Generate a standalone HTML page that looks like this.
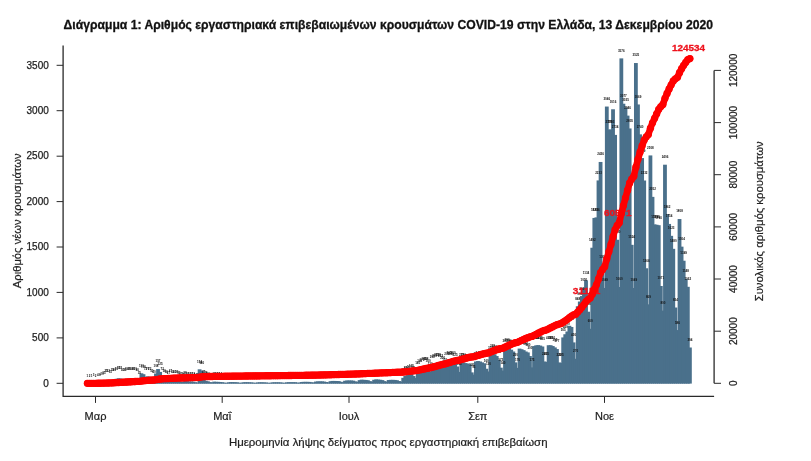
<!DOCTYPE html>
<html lang="el"><head><meta charset="utf-8"><title>COVID-19 Ελλάδα</title>
<style>
html,body{margin:0;padding:0;background:#fff;}
body{width:811px;height:461px;overflow:hidden;}
svg{display:block;font-family:"Liberation Sans",sans-serif;}
.t{font-size:3px;font-weight:bold;fill:#111;text-anchor:middle;}
.ax{font-size:10px;fill:#222;stroke:#222;stroke-width:0.25px;}
.lab{font-size:11px;fill:#222;stroke:#222;stroke-width:0.2px;}
.rl{font-size:9.5px;font-weight:bold;fill:#ee121c;stroke:#ee121c;stroke-width:0.3px;text-anchor:middle;}
</style></head><body>
<svg width="811" height="461" viewBox="0 0 811 461">
<rect width="811" height="461" fill="#fff"/>
<text x="63.6" y="29" font-size="12.8" font-weight="bold" fill="#111" stroke="#111" stroke-width="0.3" textLength="649.5" lengthAdjust="spacingAndGlyphs">Διάγραμμα 1: Αριθμός εργαστηριακά επιβεβαιωμένων κρουσμάτων COVID-19 στην Ελλάδα, 13 Δεκεμβρίου 2020</text>
<g fill="#4a708b">
<rect x="85.50" y="383.21" width="3.8" height="0.39"/><rect x="87.58" y="383.12" width="3.8" height="0.48"/><rect x="89.66" y="383.21" width="3.8" height="0.39"/><rect x="91.73" y="383.03" width="3.8" height="0.57"/><rect x="93.81" y="383.12" width="3.8" height="0.48"/><rect x="95.89" y="382.94" width="3.8" height="0.66"/><rect x="97.97" y="382.57" width="3.8" height="1.03"/><rect x="100.04" y="381.48" width="3.8" height="2.12"/><rect x="102.12" y="380.12" width="3.8" height="3.48"/><rect x="104.20" y="381.03" width="3.8" height="2.57"/><rect x="106.28" y="381.30" width="3.8" height="2.30"/><rect x="108.35" y="381.94" width="3.8" height="1.66"/><rect x="110.43" y="380.12" width="3.8" height="3.48"/><rect x="112.51" y="379.67" width="3.8" height="3.93"/><rect x="114.59" y="378.76" width="3.8" height="4.84"/><rect x="116.66" y="378.30" width="3.8" height="5.30"/><rect x="118.74" y="378.48" width="3.8" height="5.12"/><rect x="120.82" y="379.67" width="3.8" height="3.93"/><rect x="122.90" y="380.12" width="3.8" height="3.48"/><rect x="124.97" y="378.76" width="3.8" height="4.84"/><rect x="127.05" y="378.94" width="3.8" height="4.66"/><rect x="129.13" y="378.76" width="3.8" height="4.84"/><rect x="131.21" y="378.94" width="3.8" height="4.66"/><rect x="133.28" y="378.76" width="3.8" height="4.84"/><rect x="135.36" y="379.67" width="3.8" height="3.93"/><rect x="137.44" y="380.12" width="3.8" height="3.48"/><rect x="139.52" y="373.31" width="3.8" height="10.29"/><rect x="141.60" y="374.21" width="3.8" height="9.39"/><rect x="143.67" y="376.76" width="3.8" height="6.84"/><rect x="145.75" y="376.39" width="3.8" height="7.21"/><rect x="147.83" y="376.76" width="3.8" height="6.84"/><rect x="149.91" y="378.76" width="3.8" height="4.84"/><rect x="151.98" y="379.67" width="3.8" height="3.93"/><rect x="154.06" y="373.49" width="3.8" height="10.11"/><rect x="156.14" y="369.04" width="3.8" height="14.56"/><rect x="158.22" y="371.94" width="3.8" height="11.66"/><rect x="160.29" y="376.76" width="3.8" height="6.84"/><rect x="162.37" y="378.21" width="3.8" height="5.39"/><rect x="164.45" y="380.03" width="3.8" height="3.57"/><rect x="166.53" y="380.85" width="3.8" height="2.75"/><rect x="168.60" y="379.03" width="3.8" height="4.57"/><rect x="170.68" y="379.39" width="3.8" height="4.21"/><rect x="172.76" y="379.67" width="3.8" height="3.93"/><rect x="174.84" y="380.03" width="3.8" height="3.57"/><rect x="176.91" y="380.39" width="3.8" height="3.21"/><rect x="178.99" y="381.48" width="3.8" height="2.12"/><rect x="181.07" y="382.03" width="3.8" height="1.57"/><rect x="183.15" y="380.76" width="3.8" height="2.84"/><rect x="185.22" y="381.12" width="3.8" height="2.48"/><rect x="187.30" y="381.48" width="3.8" height="2.12"/><rect x="189.38" y="381.48" width="3.8" height="2.12"/><rect x="191.46" y="381.66" width="3.8" height="1.94"/><rect x="193.54" y="382.21" width="3.8" height="1.39"/><rect x="195.61" y="382.57" width="3.8" height="1.03"/><rect x="197.69" y="369.31" width="3.8" height="14.29"/><rect x="199.77" y="370.58" width="3.8" height="13.02"/><rect x="201.85" y="379.21" width="3.8" height="4.39"/><rect x="203.92" y="380.76" width="3.8" height="2.84"/><rect x="206.00" y="381.30" width="3.8" height="2.30"/><rect x="208.08" y="382.12" width="3.8" height="1.48"/><rect x="210.16" y="382.48" width="3.8" height="1.12"/><rect x="212.23" y="381.66" width="3.8" height="1.94"/><rect x="214.31" y="381.85" width="3.8" height="1.75"/><rect x="216.39" y="381.85" width="3.8" height="1.75"/><rect x="218.47" y="382.03" width="3.8" height="1.57"/><rect x="220.54" y="382.21" width="3.8" height="1.39"/><rect x="222.62" y="382.66" width="3.8" height="0.94"/><rect x="224.70" y="382.85" width="3.8" height="0.75"/><rect x="226.78" y="382.30" width="3.8" height="1.30"/><rect x="228.85" y="382.12" width="3.8" height="1.48"/><rect x="230.93" y="382.12" width="3.8" height="1.48"/><rect x="233.01" y="382.21" width="3.8" height="1.39"/><rect x="235.09" y="382.30" width="3.8" height="1.30"/><rect x="237.16" y="382.66" width="3.8" height="0.94"/><rect x="239.24" y="382.85" width="3.8" height="0.75"/><rect x="241.32" y="382.30" width="3.8" height="1.30"/><rect x="243.40" y="382.21" width="3.8" height="1.39"/><rect x="245.48" y="382.21" width="3.8" height="1.39"/><rect x="247.55" y="382.30" width="3.8" height="1.30"/><rect x="249.63" y="382.39" width="3.8" height="1.21"/><rect x="251.71" y="382.66" width="3.8" height="0.94"/><rect x="253.79" y="382.85" width="3.8" height="0.75"/><rect x="255.86" y="382.39" width="3.8" height="1.21"/><rect x="257.94" y="382.30" width="3.8" height="1.30"/><rect x="260.02" y="382.30" width="3.8" height="1.30"/><rect x="262.10" y="382.39" width="3.8" height="1.21"/><rect x="264.17" y="382.48" width="3.8" height="1.12"/><rect x="266.25" y="382.75" width="3.8" height="0.85"/><rect x="268.33" y="382.85" width="3.8" height="0.75"/><rect x="270.41" y="382.39" width="3.8" height="1.21"/><rect x="272.48" y="382.30" width="3.8" height="1.30"/><rect x="274.56" y="382.30" width="3.8" height="1.30"/><rect x="276.64" y="382.30" width="3.8" height="1.30"/><rect x="278.72" y="382.39" width="3.8" height="1.21"/><rect x="280.79" y="382.66" width="3.8" height="0.94"/><rect x="282.87" y="382.85" width="3.8" height="0.75"/><rect x="284.95" y="382.30" width="3.8" height="1.30"/><rect x="287.03" y="382.21" width="3.8" height="1.39"/><rect x="289.10" y="382.21" width="3.8" height="1.39"/><rect x="291.18" y="382.21" width="3.8" height="1.39"/><rect x="293.26" y="382.21" width="3.8" height="1.39"/><rect x="295.34" y="382.57" width="3.8" height="1.03"/><rect x="297.42" y="382.75" width="3.8" height="0.85"/><rect x="299.49" y="382.03" width="3.8" height="1.57"/><rect x="301.57" y="381.85" width="3.8" height="1.75"/><rect x="303.65" y="381.85" width="3.8" height="1.75"/><rect x="305.73" y="381.85" width="3.8" height="1.75"/><rect x="307.80" y="381.94" width="3.8" height="1.66"/><rect x="309.88" y="382.30" width="3.8" height="1.30"/><rect x="311.96" y="382.57" width="3.8" height="1.03"/><rect x="314.04" y="381.57" width="3.8" height="2.03"/><rect x="316.11" y="381.39" width="3.8" height="2.21"/><rect x="318.19" y="381.39" width="3.8" height="2.21"/><rect x="320.27" y="381.39" width="3.8" height="2.21"/><rect x="322.35" y="381.57" width="3.8" height="2.03"/><rect x="324.42" y="382.03" width="3.8" height="1.57"/><rect x="326.50" y="382.39" width="3.8" height="1.21"/><rect x="328.58" y="381.21" width="3.8" height="2.39"/><rect x="330.66" y="380.94" width="3.8" height="2.66"/><rect x="332.73" y="380.94" width="3.8" height="2.66"/><rect x="334.81" y="381.03" width="3.8" height="2.57"/><rect x="336.89" y="381.12" width="3.8" height="2.48"/><rect x="338.97" y="381.76" width="3.8" height="1.84"/><rect x="341.04" y="382.21" width="3.8" height="1.39"/><rect x="343.12" y="380.76" width="3.8" height="2.84"/><rect x="345.20" y="380.48" width="3.8" height="3.12"/><rect x="347.28" y="380.48" width="3.8" height="3.12"/><rect x="349.36" y="380.48" width="3.8" height="3.12"/><rect x="351.43" y="380.67" width="3.8" height="2.93"/><rect x="353.51" y="381.39" width="3.8" height="2.21"/><rect x="355.59" y="381.85" width="3.8" height="1.75"/><rect x="357.67" y="380.12" width="3.8" height="3.48"/><rect x="359.74" y="379.67" width="3.8" height="3.93"/><rect x="361.82" y="379.85" width="3.8" height="3.75"/><rect x="363.90" y="379.94" width="3.8" height="3.66"/><rect x="365.98" y="380.21" width="3.8" height="3.39"/><rect x="368.05" y="381.12" width="3.8" height="2.48"/><rect x="370.13" y="381.76" width="3.8" height="1.84"/><rect x="372.21" y="379.76" width="3.8" height="3.84"/><rect x="374.29" y="379.39" width="3.8" height="4.21"/><rect x="376.36" y="379.57" width="3.8" height="4.03"/><rect x="378.44" y="379.76" width="3.8" height="3.84"/><rect x="380.52" y="380.12" width="3.8" height="3.48"/><rect x="382.60" y="381.12" width="3.8" height="2.48"/><rect x="384.67" y="381.76" width="3.8" height="1.84"/><rect x="386.75" y="380.03" width="3.8" height="3.57"/><rect x="388.83" y="379.85" width="3.8" height="3.75"/><rect x="390.91" y="379.85" width="3.8" height="3.75"/><rect x="392.98" y="379.94" width="3.8" height="3.66"/><rect x="395.06" y="380.21" width="3.8" height="3.39"/><rect x="397.14" y="381.03" width="3.8" height="2.57"/><rect x="399.22" y="381.66" width="3.8" height="1.94"/><rect x="401.30" y="377.85" width="3.8" height="5.75"/><rect x="403.37" y="376.03" width="3.8" height="7.57"/><rect x="405.45" y="375.12" width="3.8" height="8.48"/><rect x="407.53" y="374.21" width="3.8" height="9.39"/><rect x="409.61" y="373.76" width="3.8" height="9.84"/><rect x="411.68" y="376.03" width="3.8" height="7.57"/><rect x="413.76" y="377.85" width="3.8" height="5.75"/><rect x="415.84" y="370.58" width="3.8" height="13.02"/><rect x="417.92" y="368.31" width="3.8" height="15.29"/><rect x="419.99" y="367.40" width="3.8" height="16.20"/><rect x="422.07" y="366.49" width="3.8" height="17.11"/><rect x="424.15" y="366.22" width="3.8" height="17.38"/><rect x="426.23" y="368.76" width="3.8" height="14.84"/><rect x="428.30" y="371.49" width="3.8" height="12.11"/><rect x="430.38" y="364.67" width="3.8" height="18.93"/><rect x="432.46" y="363.77" width="3.8" height="19.83"/><rect x="434.54" y="362.86" width="3.8" height="20.74"/><rect x="436.61" y="362.58" width="3.8" height="21.02"/><rect x="438.69" y="363.13" width="3.8" height="20.47"/><rect x="440.77" y="365.13" width="3.8" height="18.47"/><rect x="442.85" y="367.85" width="3.8" height="15.75"/><rect x="444.92" y="361.95" width="3.8" height="21.65"/><rect x="447.00" y="361.04" width="3.8" height="22.56"/><rect x="449.08" y="361.49" width="3.8" height="22.11"/><rect x="451.16" y="360.59" width="3.8" height="23.01"/><rect x="453.24" y="362.86" width="3.8" height="20.74"/><rect x="455.31" y="366.49" width="3.8" height="17.11"/><rect x="457.39" y="371.94" width="3.8" height="11.66"/><rect x="459.47" y="362.86" width="3.8" height="20.74"/><rect x="461.55" y="362.40" width="3.8" height="21.20"/><rect x="463.62" y="363.13" width="3.8" height="20.47"/><rect x="465.70" y="363.49" width="3.8" height="20.11"/><rect x="467.78" y="364.22" width="3.8" height="19.38"/><rect x="469.86" y="372.40" width="3.8" height="11.20"/><rect x="471.93" y="374.67" width="3.8" height="8.93"/><rect x="474.01" y="361.49" width="3.8" height="22.11"/><rect x="476.09" y="361.04" width="3.8" height="22.56"/><rect x="478.17" y="361.49" width="3.8" height="22.11"/><rect x="480.24" y="362.40" width="3.8" height="21.20"/><rect x="482.32" y="363.31" width="3.8" height="20.29"/><rect x="484.40" y="368.76" width="3.8" height="14.84"/><rect x="486.48" y="371.49" width="3.8" height="12.11"/><rect x="488.55" y="355.13" width="3.8" height="28.47"/><rect x="490.63" y="354.04" width="3.8" height="29.56"/><rect x="492.71" y="354.23" width="3.8" height="29.37"/><rect x="494.79" y="356.04" width="3.8" height="27.56"/><rect x="496.86" y="359.68" width="3.8" height="23.92"/><rect x="498.94" y="367.67" width="3.8" height="15.93"/><rect x="501.02" y="370.58" width="3.8" height="13.02"/><rect x="503.10" y="348.77" width="3.8" height="34.83"/><rect x="505.18" y="347.87" width="3.8" height="35.73"/><rect x="507.25" y="348.23" width="3.8" height="35.37"/><rect x="509.33" y="349.68" width="3.8" height="33.92"/><rect x="511.41" y="351.50" width="3.8" height="32.10"/><rect x="513.49" y="362.40" width="3.8" height="21.20"/><rect x="515.56" y="367.85" width="3.8" height="15.75"/><rect x="517.64" y="348.59" width="3.8" height="35.01"/><rect x="519.72" y="349.23" width="3.8" height="34.37"/><rect x="521.80" y="350.14" width="3.8" height="33.46"/><rect x="523.87" y="351.50" width="3.8" height="32.10"/><rect x="525.95" y="352.41" width="3.8" height="31.19"/><rect x="528.03" y="356.04" width="3.8" height="27.56"/><rect x="530.11" y="367.40" width="3.8" height="16.20"/><rect x="532.18" y="346.05" width="3.8" height="37.55"/><rect x="534.26" y="345.32" width="3.8" height="38.28"/><rect x="536.34" y="345.14" width="3.8" height="38.46"/><rect x="538.42" y="345.59" width="3.8" height="38.01"/><rect x="540.49" y="346.50" width="3.8" height="37.10"/><rect x="542.57" y="361.49" width="3.8" height="22.11"/><rect x="544.65" y="361.95" width="3.8" height="21.65"/><rect x="546.73" y="345.23" width="3.8" height="38.37"/><rect x="548.80" y="345.23" width="3.8" height="38.37"/><rect x="550.88" y="346.05" width="3.8" height="37.55"/><rect x="552.96" y="347.41" width="3.8" height="36.19"/><rect x="555.04" y="349.05" width="3.8" height="34.55"/><rect x="557.12" y="362.49" width="3.8" height="21.11"/><rect x="559.19" y="362.86" width="3.8" height="20.74"/><rect x="561.27" y="337.42" width="3.8" height="46.18"/><rect x="563.35" y="334.24" width="3.8" height="49.36"/><rect x="565.43" y="331.51" width="3.8" height="52.09"/><rect x="567.50" y="325.79" width="3.8" height="57.81"/><rect x="569.58" y="326.97" width="3.8" height="56.63"/><rect x="571.66" y="342.41" width="3.8" height="41.19"/><rect x="573.74" y="358.77" width="3.8" height="24.83"/><rect x="575.81" y="306.25" width="3.8" height="77.35"/><rect x="577.89" y="301.53" width="3.8" height="82.07"/><rect x="579.97" y="296.08" width="3.8" height="87.52"/><rect x="582.05" y="287.90" width="3.8" height="95.70"/><rect x="584.12" y="280.27" width="3.8" height="103.33"/><rect x="586.20" y="311.70" width="3.8" height="71.90"/><rect x="588.28" y="328.79" width="3.8" height="54.81"/><rect x="590.36" y="247.74" width="3.8" height="135.86"/><rect x="592.43" y="217.94" width="3.8" height="165.66"/><rect x="594.51" y="217.39" width="3.8" height="166.21"/><rect x="596.59" y="180.42" width="3.8" height="203.18"/><rect x="598.67" y="161.97" width="3.8" height="221.63"/><rect x="600.74" y="265.00" width="3.8" height="118.60"/><rect x="602.82" y="287.99" width="3.8" height="95.61"/><rect x="604.90" y="106.55" width="3.8" height="277.05"/><rect x="606.98" y="129.54" width="3.8" height="254.06"/><rect x="609.06" y="129.54" width="3.8" height="254.06"/><rect x="611.13" y="109.27" width="3.8" height="274.33"/><rect x="613.21" y="134.90" width="3.8" height="248.70"/><rect x="615.29" y="239.75" width="3.8" height="143.85"/><rect x="617.37" y="286.99" width="3.8" height="96.61"/><rect x="619.44" y="58.39" width="3.8" height="325.21"/><rect x="621.52" y="103.73" width="3.8" height="279.87"/><rect x="623.60" y="107.55" width="3.8" height="276.05"/><rect x="625.68" y="115.63" width="3.8" height="267.97"/><rect x="627.75" y="128.45" width="3.8" height="255.15"/><rect x="629.83" y="244.83" width="3.8" height="138.77"/><rect x="631.91" y="287.99" width="3.8" height="95.61"/><rect x="633.99" y="63.03" width="3.8" height="320.57"/><rect x="636.06" y="104.46" width="3.8" height="279.14"/><rect x="638.14" y="134.35" width="3.8" height="249.25"/><rect x="640.22" y="158.07" width="3.8" height="225.53"/><rect x="642.30" y="180.51" width="3.8" height="203.09"/><rect x="644.37" y="268.27" width="3.8" height="115.33"/><rect x="646.45" y="304.35" width="3.8" height="79.25"/><rect x="648.53" y="155.43" width="3.8" height="228.17"/><rect x="650.61" y="196.86" width="3.8" height="186.74"/><rect x="652.68" y="224.39" width="3.8" height="159.21"/><rect x="654.76" y="224.75" width="3.8" height="158.85"/><rect x="656.84" y="225.21" width="3.8" height="158.39"/><rect x="658.92" y="285.99" width="3.8" height="97.61"/><rect x="661.00" y="310.61" width="3.8" height="72.99"/><rect x="663.07" y="164.70" width="3.8" height="218.90"/><rect x="665.15" y="214.12" width="3.8" height="169.48"/><rect x="667.23" y="223.94" width="3.8" height="159.66"/><rect x="669.31" y="235.84" width="3.8" height="147.76"/><rect x="671.38" y="248.83" width="3.8" height="134.77"/><rect x="673.46" y="307.53" width="3.8" height="76.07"/><rect x="675.54" y="330.06" width="3.8" height="53.54"/><rect x="677.62" y="219.03" width="3.8" height="164.57"/><rect x="679.69" y="246.65" width="3.8" height="136.95"/><rect x="681.77" y="260.73" width="3.8" height="122.87"/><rect x="683.85" y="279.00" width="3.8" height="104.60"/><rect x="685.93" y="286.81" width="3.8" height="96.79"/><rect x="688.00" y="347.50" width="3.8" height="36.10"/></g>
<g class="t">
<text x="87.4" y="376.6">1</text><text x="89.5" y="376.5">2</text><text x="91.6" y="376.6">1</text><text x="93.6" y="376.4">3</text><text x="95.7" y="376.5">2</text><text x="97.8" y="376.3">4</text><text x="99.9" y="376.0">8</text><text x="101.9" y="374.9">20</text><text x="104.0" y="373.5">35</text><text x="106.1" y="371.9">25</text><text x="108.2" y="372.2">22</text><text x="110.3" y="372.8">15</text><text x="112.3" y="371.0">35</text><text x="114.4" y="370.6">40</text><text x="116.5" y="369.7">50</text><text x="118.6" y="369.2">55</text><text x="120.6" y="369.4">53</text><text x="122.7" y="370.6">40</text><text x="124.8" y="371.0">35</text><text x="126.9" y="369.7">50</text><text x="129.0" y="369.8">48</text><text x="131.0" y="369.7">50</text><text x="133.1" y="369.8">48</text><text x="135.2" y="369.7">50</text><text x="137.3" y="370.6">40</text><text x="139.3" y="373.5">35</text><text x="141.4" y="366.7">110</text><text x="143.5" y="367.6">100</text><text x="145.6" y="370.2">72</text><text x="147.7" y="369.8">76</text><text x="149.7" y="370.2">72</text><text x="151.8" y="372.2">50</text><text x="153.9" y="373.1">40</text><text x="156.0" y="366.9">108</text><text x="158.0" y="362.4">157</text><text x="160.1" y="365.3">125</text><text x="162.2" y="370.2">72</text><text x="164.3" y="371.6">56</text><text x="166.3" y="373.4">36</text><text x="168.4" y="374.2">27</text><text x="170.5" y="372.4">47</text><text x="172.6" y="372.8">43</text><text x="174.7" y="373.1">40</text><text x="176.7" y="373.4">36</text><text x="178.8" y="373.8">32</text><text x="180.9" y="374.9">20</text><text x="183.0" y="375.4">14</text><text x="185.0" y="374.2">28</text><text x="187.1" y="374.5">24</text><text x="189.2" y="374.9">20</text><text x="191.3" y="374.9">20</text><text x="193.4" y="375.1">18</text><text x="195.4" y="375.6">12</text><text x="197.5" y="376.0">8</text><text x="199.6" y="362.7">154</text><text x="201.7" y="364.0">140</text><text x="203.7" y="372.6">45</text><text x="205.8" y="374.2">28</text><text x="207.9" y="374.7">22</text><text x="210.0" y="375.5">13</text><text x="212.1" y="375.9">9</text><text x="214.1" y="375.1">18</text><text x="216.2" y="375.2">16</text><text x="218.3" y="375.2">16</text><text x="220.4" y="375.4">14</text><text x="222.4" y="375.6">12</text><text x="224.5" y="376.1">7</text><text x="226.6" y="376.2">5</text><text x="228.7" y="375.7">11</text><text x="230.8" y="375.5">13</text><text x="232.8" y="375.5">13</text><text x="234.9" y="375.6">12</text><text x="237.0" y="375.7">11</text><text x="239.1" y="376.1">7</text><text x="241.1" y="376.2">5</text><text x="243.2" y="375.7">11</text><text x="245.3" y="375.6">12</text><text x="247.4" y="375.6">12</text><text x="249.5" y="375.7">11</text><text x="251.5" y="375.8">10</text><text x="253.6" y="376.1">7</text><text x="255.7" y="376.2">5</text><text x="257.8" y="375.8">10</text><text x="259.8" y="375.7">11</text><text x="261.9" y="375.7">11</text><text x="264.0" y="375.8">10</text><text x="266.1" y="375.9">9</text><text x="268.2" y="376.2">6</text><text x="270.2" y="376.2">5</text><text x="272.3" y="375.8">10</text><text x="274.4" y="375.7">11</text><text x="276.5" y="375.7">11</text><text x="278.5" y="375.7">11</text><text x="280.6" y="375.8">10</text><text x="282.7" y="376.1">7</text><text x="284.8" y="376.2">5</text><text x="286.8" y="375.7">11</text><text x="288.9" y="375.6">12</text><text x="291.0" y="375.6">12</text><text x="293.1" y="375.6">12</text><text x="295.2" y="375.6">12</text><text x="297.2" y="376.0">8</text><text x="299.3" y="376.2">6</text><text x="301.4" y="375.4">14</text><text x="303.5" y="375.2">16</text><text x="305.5" y="375.2">16</text><text x="307.6" y="375.2">16</text><text x="309.7" y="375.3">15</text><text x="311.8" y="375.7">11</text><text x="313.9" y="376.0">8</text><text x="315.9" y="375.0">19</text><text x="318.0" y="374.8">21</text><text x="320.1" y="374.8">21</text><text x="322.2" y="374.8">21</text><text x="324.2" y="375.0">19</text><text x="326.3" y="375.4">14</text><text x="328.4" y="375.8">10</text><text x="330.5" y="374.6">23</text><text x="332.6" y="374.3">26</text><text x="334.6" y="374.3">26</text><text x="336.7" y="374.4">25</text><text x="338.8" y="374.5">24</text><text x="340.9" y="375.2">17</text><text x="342.9" y="375.6">12</text><text x="345.0" y="374.2">28</text><text x="347.1" y="373.9">31</text><text x="349.2" y="373.9">31</text><text x="351.3" y="373.9">31</text><text x="353.3" y="374.1">29</text><text x="355.4" y="374.8">21</text><text x="357.5" y="375.2">16</text><text x="359.6" y="373.5">35</text><text x="361.6" y="373.1">40</text><text x="363.7" y="373.2">38</text><text x="365.8" y="373.3">37</text><text x="367.9" y="373.6">34</text><text x="370.0" y="374.5">24</text><text x="372.0" y="375.2">17</text><text x="374.1" y="373.2">39</text><text x="376.2" y="372.8">43</text><text x="378.3" y="373.0">41</text><text x="380.3" y="373.2">39</text><text x="382.4" y="373.5">35</text><text x="384.5" y="374.5">24</text><text x="386.6" y="375.2">17</text><text x="388.7" y="373.4">36</text><text x="390.7" y="373.2">38</text><text x="392.8" y="373.2">38</text><text x="394.9" y="373.3">37</text><text x="397.0" y="373.6">34</text><text x="399.0" y="374.4">25</text><text x="401.1" y="375.1">18</text><text x="403.2" y="371.2">60</text><text x="405.3" y="369.4">80</text><text x="407.4" y="368.5">90</text><text x="409.4" y="367.6">100</text><text x="411.5" y="367.2">105</text><text x="413.6" y="369.4">80</text><text x="415.7" y="371.2">60</text><text x="417.7" y="364.0">140</text><text x="419.8" y="361.7">165</text><text x="421.9" y="360.8">175</text><text x="424.0" y="359.9">185</text><text x="426.0" y="359.6">188</text><text x="428.1" y="362.2">160</text><text x="430.2" y="364.9">130</text><text x="432.3" y="358.1">205</text><text x="434.4" y="357.2">215</text><text x="436.4" y="356.3">225</text><text x="438.5" y="356.0">228</text><text x="440.6" y="356.5">222</text><text x="442.7" y="358.5">200</text><text x="444.7" y="361.3">170</text><text x="446.8" y="355.3">235</text><text x="448.9" y="354.4">245</text><text x="451.0" y="354.9">240</text><text x="453.1" y="354.0">250</text><text x="455.1" y="356.3">225</text><text x="457.2" y="359.9">185</text><text x="459.3" y="365.3">125</text><text x="461.4" y="356.3">225</text><text x="463.4" y="355.8">230</text><text x="465.5" y="356.5">222</text><text x="467.6" y="356.9">218</text><text x="469.7" y="357.6">210</text><text x="471.8" y="365.8">120</text><text x="473.8" y="368.1">95</text><text x="475.9" y="354.9">240</text><text x="478.0" y="354.4">245</text><text x="480.1" y="354.9">240</text><text x="482.1" y="355.8">230</text><text x="484.2" y="356.7">220</text><text x="486.3" y="362.2">160</text><text x="488.4" y="364.9">130</text><text x="490.5" y="348.5">310</text><text x="492.5" y="347.4">322</text><text x="494.6" y="347.6">320</text><text x="496.7" y="349.4">300</text><text x="498.8" y="353.1">260</text><text x="500.8" y="361.1">172</text><text x="502.9" y="364.0">140</text><text x="505.0" y="342.2">380</text><text x="507.1" y="341.3">390</text><text x="509.2" y="341.6">386</text><text x="511.2" y="343.1">370</text><text x="513.3" y="344.9">350</text><text x="515.4" y="355.8">230</text><text x="517.5" y="361.3">170</text><text x="519.5" y="342.0">382</text><text x="521.6" y="342.6">375</text><text x="523.7" y="343.5">365</text><text x="525.8" y="344.9">350</text><text x="527.9" y="345.8">340</text><text x="529.9" y="349.4">300</text><text x="532.0" y="360.8">175</text><text x="534.1" y="339.4">410</text><text x="536.2" y="338.7">418</text><text x="538.2" y="338.5">420</text><text x="540.3" y="339.0">415</text><text x="542.4" y="339.9">405</text><text x="544.5" y="354.9">240</text><text x="546.5" y="355.3">235</text><text x="548.6" y="338.6">419</text><text x="550.7" y="338.6">419</text><text x="552.8" y="339.4">410</text><text x="554.9" y="340.8">395</text><text x="556.9" y="342.4">377</text><text x="559.0" y="355.9">229</text><text x="561.1" y="356.3">225</text><text x="563.2" y="330.8">505</text><text x="565.2" y="327.6">540</text><text x="567.3" y="324.9">570</text><text x="569.4" y="319.2">633</text><text x="571.5" y="320.4">620</text><text x="573.6" y="335.8">450</text><text x="575.6" y="352.2">270</text><text x="577.7" y="299.7">848</text><text x="579.8" y="294.9">900</text><text x="581.9" y="289.5">960</text><text x="583.9" y="281.3">1050</text><text x="586.0" y="273.7">1134</text><text x="588.1" y="305.1">788</text><text x="590.2" y="322.2">600</text><text x="592.3" y="241.1">1492</text><text x="594.3" y="211.3">1820</text><text x="596.4" y="210.8">1826</text><text x="598.5" y="173.8">2233</text><text x="600.6" y="155.4">2436</text><text x="602.6" y="258.4">1302</text><text x="604.7" y="281.4">1049</text><text x="606.8" y="99.9">3046</text><text x="608.9" y="122.9">2793</text><text x="611.0" y="122.9">2793</text><text x="613.0" y="102.7">3016</text><text x="615.1" y="128.3">2734</text><text x="617.2" y="233.1">1580</text><text x="619.3" y="280.4">1060</text><text x="621.3" y="51.8">3576</text><text x="623.4" y="97.1">3077</text><text x="625.5" y="100.9">3035</text><text x="627.6" y="109.0">2946</text><text x="629.7" y="121.8">2805</text><text x="631.7" y="238.2">1524</text><text x="633.8" y="281.4">1049</text><text x="635.9" y="56.4">3525</text><text x="638.0" y="97.9">3069</text><text x="640.0" y="127.8">2740</text><text x="642.1" y="151.5">2479</text><text x="644.2" y="173.9">2232</text><text x="646.3" y="261.7">1266</text><text x="648.4" y="297.7">869</text><text x="650.4" y="148.8">2508</text><text x="652.5" y="190.3">2052</text><text x="654.6" y="217.8">1749</text><text x="656.7" y="218.2">1745</text><text x="658.7" y="218.6">1740</text><text x="660.8" y="279.4">1071</text><text x="662.9" y="304.0">800</text><text x="665.0" y="158.1">2406</text><text x="667.1" y="207.5">1862</text><text x="669.1" y="217.3">1754</text><text x="671.2" y="229.2">1623</text><text x="673.3" y="242.2">1480</text><text x="675.4" y="300.9">834</text><text x="677.4" y="323.5">586</text><text x="679.5" y="212.4">1808</text><text x="681.6" y="240.1">1504</text><text x="683.7" y="254.1">1349</text><text x="685.7" y="272.4">1148</text><text x="687.8" y="280.2">1062</text><text x="689.9" y="340.9">394</text></g>
<text class="rl" x="586.6" y="294.0" textLength="27.5" lengthAdjust="spacingAndGlyphs">31151</text>
<text class="rl" x="617.8" y="216.4" textLength="27.5" lengthAdjust="spacingAndGlyphs">60571</text>
<text class="rl" x="688.6" y="51.0" textLength="33.0" lengthAdjust="spacingAndGlyphs">124534</text>
<polyline points="87.40,383.30 89.48,383.29 91.56,383.29 93.63,383.28 95.71,383.28 97.79,383.27 99.87,383.25 101.94,383.19 104.02,383.10 106.10,383.04 108.18,382.98 110.25,382.94 112.33,382.85 114.41,382.75 116.49,382.62 118.56,382.48 120.64,382.34 122.72,382.24 124.80,382.15 126.87,382.02 128.95,381.90 131.03,381.77 133.11,381.64 135.18,381.52 137.26,381.41 139.34,381.32 141.42,381.04 143.50,380.78 145.57,380.59 147.65,380.40 149.73,380.21 151.81,380.08 153.88,379.98 155.96,379.70 158.04,379.30 160.12,378.98 162.19,378.79 164.27,378.64 166.35,378.55 168.43,378.48 170.50,378.36 172.58,378.25 174.66,378.15 176.74,378.05 178.81,377.97 180.89,377.92 182.97,377.88 185.05,377.81 187.12,377.75 189.20,377.70 191.28,377.65 193.36,377.60 195.44,377.57 197.51,377.55 199.59,377.15 201.67,376.79 203.75,376.67 205.82,376.60 207.90,376.55 209.98,376.51 212.06,376.49 214.13,376.44 216.21,376.40 218.29,376.36 220.37,376.32 222.44,376.29 224.52,376.27 226.60,376.26 228.68,376.23 230.75,376.20 232.83,376.17 234.91,376.14 236.99,376.11 239.06,376.09 241.14,376.08 243.22,376.05 245.30,376.02 247.38,375.99 249.45,375.96 251.53,375.93 253.61,375.91 255.69,375.90 257.76,375.88 259.84,375.85 261.92,375.82 264.00,375.79 266.07,375.77 268.15,375.75 270.23,375.74 272.31,375.72 274.38,375.69 276.46,375.66 278.54,375.63 280.62,375.60 282.69,375.59 284.77,375.57 286.85,375.54 288.93,375.51 291.00,375.48 293.08,375.45 295.16,375.42 297.24,375.40 299.32,375.39 301.39,375.35 303.47,375.31 305.55,375.27 307.63,375.23 309.70,375.19 311.78,375.16 313.86,375.14 315.94,375.09 318.01,375.03 320.09,374.98 322.17,374.93 324.25,374.88 326.32,374.84 328.40,374.82 330.48,374.76 332.56,374.69 334.63,374.62 336.71,374.56 338.79,374.50 340.87,374.45 342.94,374.42 345.02,374.35 347.10,374.27 349.18,374.19 351.26,374.11 353.33,374.03 355.41,373.98 357.49,373.94 359.57,373.85 361.64,373.74 363.72,373.65 365.80,373.55 367.88,373.46 369.95,373.40 372.03,373.36 374.11,373.26 376.19,373.15 378.26,373.04 380.34,372.94 382.42,372.85 384.50,372.79 386.57,372.74 388.65,372.65 390.73,372.55 392.81,372.46 394.88,372.36 396.96,372.27 399.04,372.21 401.12,372.16 403.20,372.01 405.27,371.80 407.35,371.57 409.43,371.31 411.51,371.04 413.58,370.83 415.66,370.68 417.74,370.32 419.82,369.89 421.89,369.44 423.97,368.96 426.05,368.48 428.13,368.07 430.20,367.73 432.28,367.20 434.36,366.65 436.44,366.07 438.51,365.48 440.59,364.91 442.67,364.39 444.75,363.95 446.82,363.35 448.90,362.71 450.98,362.10 453.06,361.45 455.14,360.87 457.21,360.39 459.29,360.07 461.37,359.49 463.45,358.90 465.52,358.33 467.60,357.76 469.68,357.22 471.76,356.91 473.83,356.67 475.91,356.05 477.99,355.42 480.07,354.80 482.14,354.20 484.22,353.64 486.30,353.22 488.38,352.89 490.45,352.09 492.53,351.26 494.61,350.43 496.69,349.66 498.76,348.99 500.84,348.55 502.92,348.18 505.00,347.20 507.08,346.20 509.15,345.20 511.23,344.25 513.31,343.35 515.39,342.75 517.46,342.31 519.54,341.33 521.62,340.36 523.70,339.42 525.77,338.52 527.85,337.64 529.93,336.87 532.01,336.42 534.08,335.36 536.16,334.28 538.24,333.20 540.32,332.13 542.39,331.08 544.47,330.46 546.55,329.86 548.63,328.78 550.70,327.70 552.78,326.64 554.86,325.62 556.94,324.65 559.02,324.06 561.09,323.48 563.17,322.18 565.25,320.78 567.33,319.31 569.40,317.68 571.48,316.08 573.56,314.92 575.64,314.22 577.71,312.04 579.79,309.72 581.87,307.24 583.95,304.53 586.02,301.61 588.10,299.58 590.18,298.03 592.26,294.18 594.33,289.49 596.41,284.78 598.49,279.02 600.57,272.74 602.64,269.38 604.72,266.67 606.80,258.82 608.88,251.61 610.96,244.41 613.03,236.63 615.11,229.58 617.19,225.51 619.27,222.77 621.34,213.55 623.42,205.62 625.50,197.79 627.58,190.19 629.65,182.96 631.73,179.03 633.81,176.32 635.89,167.23 637.96,159.32 640.04,152.25 642.12,145.86 644.20,140.10 646.27,136.83 648.35,134.59 650.43,128.13 652.51,122.83 654.58,118.32 656.66,113.82 658.74,109.33 660.82,106.57 662.90,104.51 664.97,98.30 667.05,93.50 669.13,88.98 671.21,84.79 673.28,80.98 675.36,78.83 677.44,77.31 679.52,72.65 681.59,68.77 683.67,65.29 685.75,62.33 687.83,59.59 689.90,58.58" fill="none" stroke="#ff0000" stroke-width="6.6" stroke-linejoin="round" stroke-linecap="round"/>
<g fill="#ff0000">
<circle cx="87.40" cy="383.30" r="3.65"/><circle cx="89.48" cy="383.29" r="3.65"/><circle cx="91.56" cy="383.29" r="3.65"/><circle cx="93.63" cy="383.28" r="3.65"/><circle cx="95.71" cy="383.28" r="3.65"/><circle cx="97.79" cy="383.27" r="3.65"/><circle cx="99.87" cy="383.25" r="3.65"/><circle cx="101.94" cy="383.19" r="3.65"/><circle cx="104.02" cy="383.10" r="3.65"/><circle cx="106.10" cy="383.04" r="3.65"/><circle cx="108.18" cy="382.98" r="3.65"/><circle cx="110.25" cy="382.94" r="3.65"/><circle cx="112.33" cy="382.85" r="3.65"/><circle cx="114.41" cy="382.75" r="3.65"/><circle cx="116.49" cy="382.62" r="3.65"/><circle cx="118.56" cy="382.48" r="3.65"/><circle cx="120.64" cy="382.34" r="3.65"/><circle cx="122.72" cy="382.24" r="3.65"/><circle cx="124.80" cy="382.15" r="3.65"/><circle cx="126.87" cy="382.02" r="3.65"/><circle cx="128.95" cy="381.90" r="3.65"/><circle cx="131.03" cy="381.77" r="3.65"/><circle cx="133.11" cy="381.64" r="3.65"/><circle cx="135.18" cy="381.52" r="3.65"/><circle cx="137.26" cy="381.41" r="3.65"/><circle cx="139.34" cy="381.32" r="3.65"/><circle cx="141.42" cy="381.04" r="3.65"/><circle cx="143.50" cy="380.78" r="3.65"/><circle cx="145.57" cy="380.59" r="3.65"/><circle cx="147.65" cy="380.40" r="3.65"/><circle cx="149.73" cy="380.21" r="3.65"/><circle cx="151.81" cy="380.08" r="3.65"/><circle cx="153.88" cy="379.98" r="3.65"/><circle cx="155.96" cy="379.70" r="3.65"/><circle cx="158.04" cy="379.30" r="3.65"/><circle cx="160.12" cy="378.98" r="3.65"/><circle cx="162.19" cy="378.79" r="3.65"/><circle cx="164.27" cy="378.64" r="3.65"/><circle cx="166.35" cy="378.55" r="3.65"/><circle cx="168.43" cy="378.48" r="3.65"/><circle cx="170.50" cy="378.36" r="3.65"/><circle cx="172.58" cy="378.25" r="3.65"/><circle cx="174.66" cy="378.15" r="3.65"/><circle cx="176.74" cy="378.05" r="3.65"/><circle cx="178.81" cy="377.97" r="3.65"/><circle cx="180.89" cy="377.92" r="3.65"/><circle cx="182.97" cy="377.88" r="3.65"/><circle cx="185.05" cy="377.81" r="3.65"/><circle cx="187.12" cy="377.75" r="3.65"/><circle cx="189.20" cy="377.70" r="3.65"/><circle cx="191.28" cy="377.65" r="3.65"/><circle cx="193.36" cy="377.60" r="3.65"/><circle cx="195.44" cy="377.57" r="3.65"/><circle cx="197.51" cy="377.55" r="3.65"/><circle cx="199.59" cy="377.15" r="3.65"/><circle cx="201.67" cy="376.79" r="3.65"/><circle cx="203.75" cy="376.67" r="3.65"/><circle cx="205.82" cy="376.60" r="3.65"/><circle cx="207.90" cy="376.55" r="3.65"/><circle cx="209.98" cy="376.51" r="3.65"/><circle cx="212.06" cy="376.49" r="3.65"/><circle cx="214.13" cy="376.44" r="3.65"/><circle cx="216.21" cy="376.40" r="3.65"/><circle cx="218.29" cy="376.36" r="3.65"/><circle cx="220.37" cy="376.32" r="3.65"/><circle cx="222.44" cy="376.29" r="3.65"/><circle cx="224.52" cy="376.27" r="3.65"/><circle cx="226.60" cy="376.26" r="3.65"/><circle cx="228.68" cy="376.23" r="3.65"/><circle cx="230.75" cy="376.20" r="3.65"/><circle cx="232.83" cy="376.17" r="3.65"/><circle cx="234.91" cy="376.14" r="3.65"/><circle cx="236.99" cy="376.11" r="3.65"/><circle cx="239.06" cy="376.09" r="3.65"/><circle cx="241.14" cy="376.08" r="3.65"/><circle cx="243.22" cy="376.05" r="3.65"/><circle cx="245.30" cy="376.02" r="3.65"/><circle cx="247.38" cy="375.99" r="3.65"/><circle cx="249.45" cy="375.96" r="3.65"/><circle cx="251.53" cy="375.93" r="3.65"/><circle cx="253.61" cy="375.91" r="3.65"/><circle cx="255.69" cy="375.90" r="3.65"/><circle cx="257.76" cy="375.88" r="3.65"/><circle cx="259.84" cy="375.85" r="3.65"/><circle cx="261.92" cy="375.82" r="3.65"/><circle cx="264.00" cy="375.79" r="3.65"/><circle cx="266.07" cy="375.77" r="3.65"/><circle cx="268.15" cy="375.75" r="3.65"/><circle cx="270.23" cy="375.74" r="3.65"/><circle cx="272.31" cy="375.72" r="3.65"/><circle cx="274.38" cy="375.69" r="3.65"/><circle cx="276.46" cy="375.66" r="3.65"/><circle cx="278.54" cy="375.63" r="3.65"/><circle cx="280.62" cy="375.60" r="3.65"/><circle cx="282.69" cy="375.59" r="3.65"/><circle cx="284.77" cy="375.57" r="3.65"/><circle cx="286.85" cy="375.54" r="3.65"/><circle cx="288.93" cy="375.51" r="3.65"/><circle cx="291.00" cy="375.48" r="3.65"/><circle cx="293.08" cy="375.45" r="3.65"/><circle cx="295.16" cy="375.42" r="3.65"/><circle cx="297.24" cy="375.40" r="3.65"/><circle cx="299.32" cy="375.39" r="3.65"/><circle cx="301.39" cy="375.35" r="3.65"/><circle cx="303.47" cy="375.31" r="3.65"/><circle cx="305.55" cy="375.27" r="3.65"/><circle cx="307.63" cy="375.23" r="3.65"/><circle cx="309.70" cy="375.19" r="3.65"/><circle cx="311.78" cy="375.16" r="3.65"/><circle cx="313.86" cy="375.14" r="3.65"/><circle cx="315.94" cy="375.09" r="3.65"/><circle cx="318.01" cy="375.03" r="3.65"/><circle cx="320.09" cy="374.98" r="3.65"/><circle cx="322.17" cy="374.93" r="3.65"/><circle cx="324.25" cy="374.88" r="3.65"/><circle cx="326.32" cy="374.84" r="3.65"/><circle cx="328.40" cy="374.82" r="3.65"/><circle cx="330.48" cy="374.76" r="3.65"/><circle cx="332.56" cy="374.69" r="3.65"/><circle cx="334.63" cy="374.62" r="3.65"/><circle cx="336.71" cy="374.56" r="3.65"/><circle cx="338.79" cy="374.50" r="3.65"/><circle cx="340.87" cy="374.45" r="3.65"/><circle cx="342.94" cy="374.42" r="3.65"/><circle cx="345.02" cy="374.35" r="3.65"/><circle cx="347.10" cy="374.27" r="3.65"/><circle cx="349.18" cy="374.19" r="3.65"/><circle cx="351.26" cy="374.11" r="3.65"/><circle cx="353.33" cy="374.03" r="3.65"/><circle cx="355.41" cy="373.98" r="3.65"/><circle cx="357.49" cy="373.94" r="3.65"/><circle cx="359.57" cy="373.85" r="3.65"/><circle cx="361.64" cy="373.74" r="3.65"/><circle cx="363.72" cy="373.65" r="3.65"/><circle cx="365.80" cy="373.55" r="3.65"/><circle cx="367.88" cy="373.46" r="3.65"/><circle cx="369.95" cy="373.40" r="3.65"/><circle cx="372.03" cy="373.36" r="3.65"/><circle cx="374.11" cy="373.26" r="3.65"/><circle cx="376.19" cy="373.15" r="3.65"/><circle cx="378.26" cy="373.04" r="3.65"/><circle cx="380.34" cy="372.94" r="3.65"/><circle cx="382.42" cy="372.85" r="3.65"/><circle cx="384.50" cy="372.79" r="3.65"/><circle cx="386.57" cy="372.74" r="3.65"/><circle cx="388.65" cy="372.65" r="3.65"/><circle cx="390.73" cy="372.55" r="3.65"/><circle cx="392.81" cy="372.46" r="3.65"/><circle cx="394.88" cy="372.36" r="3.65"/><circle cx="396.96" cy="372.27" r="3.65"/><circle cx="399.04" cy="372.21" r="3.65"/><circle cx="401.12" cy="372.16" r="3.65"/><circle cx="403.20" cy="372.01" r="3.65"/><circle cx="405.27" cy="371.80" r="3.65"/><circle cx="407.35" cy="371.57" r="3.65"/><circle cx="409.43" cy="371.31" r="3.65"/><circle cx="411.51" cy="371.04" r="3.65"/><circle cx="413.58" cy="370.83" r="3.65"/><circle cx="415.66" cy="370.68" r="3.65"/><circle cx="417.74" cy="370.32" r="3.65"/><circle cx="419.82" cy="369.89" r="3.65"/><circle cx="421.89" cy="369.44" r="3.65"/><circle cx="423.97" cy="368.96" r="3.65"/><circle cx="426.05" cy="368.48" r="3.65"/><circle cx="428.13" cy="368.07" r="3.65"/><circle cx="430.20" cy="367.73" r="3.65"/><circle cx="432.28" cy="367.20" r="3.65"/><circle cx="434.36" cy="366.65" r="3.65"/><circle cx="436.44" cy="366.07" r="3.65"/><circle cx="438.51" cy="365.48" r="3.65"/><circle cx="440.59" cy="364.91" r="3.65"/><circle cx="442.67" cy="364.39" r="3.65"/><circle cx="444.75" cy="363.95" r="3.65"/><circle cx="446.82" cy="363.35" r="3.65"/><circle cx="448.90" cy="362.71" r="3.65"/><circle cx="450.98" cy="362.10" r="3.65"/><circle cx="453.06" cy="361.45" r="3.65"/><circle cx="455.14" cy="360.87" r="3.65"/><circle cx="457.21" cy="360.39" r="3.65"/><circle cx="459.29" cy="360.07" r="3.65"/><circle cx="461.37" cy="359.49" r="3.65"/><circle cx="463.45" cy="358.90" r="3.65"/><circle cx="465.52" cy="358.33" r="3.65"/><circle cx="467.60" cy="357.76" r="3.65"/><circle cx="469.68" cy="357.22" r="3.65"/><circle cx="471.76" cy="356.91" r="3.65"/><circle cx="473.83" cy="356.67" r="3.65"/><circle cx="475.91" cy="356.05" r="3.65"/><circle cx="477.99" cy="355.42" r="3.65"/><circle cx="480.07" cy="354.80" r="3.65"/><circle cx="482.14" cy="354.20" r="3.65"/><circle cx="484.22" cy="353.64" r="3.65"/><circle cx="486.30" cy="353.22" r="3.65"/><circle cx="488.38" cy="352.89" r="3.65"/><circle cx="490.45" cy="352.09" r="3.65"/><circle cx="492.53" cy="351.26" r="3.65"/><circle cx="494.61" cy="350.43" r="3.65"/><circle cx="496.69" cy="349.66" r="3.65"/><circle cx="498.76" cy="348.99" r="3.65"/><circle cx="500.84" cy="348.55" r="3.65"/><circle cx="502.92" cy="348.18" r="3.65"/><circle cx="505.00" cy="347.20" r="3.65"/><circle cx="507.08" cy="346.20" r="3.65"/><circle cx="509.15" cy="345.20" r="3.65"/><circle cx="511.23" cy="344.25" r="3.65"/><circle cx="513.31" cy="343.35" r="3.65"/><circle cx="515.39" cy="342.75" r="3.65"/><circle cx="517.46" cy="342.31" r="3.65"/><circle cx="519.54" cy="341.33" r="3.65"/><circle cx="521.62" cy="340.36" r="3.65"/><circle cx="523.70" cy="339.42" r="3.65"/><circle cx="525.77" cy="338.52" r="3.65"/><circle cx="527.85" cy="337.64" r="3.65"/><circle cx="529.93" cy="336.87" r="3.65"/><circle cx="532.01" cy="336.42" r="3.65"/><circle cx="534.08" cy="335.36" r="3.65"/><circle cx="536.16" cy="334.28" r="3.65"/><circle cx="538.24" cy="333.20" r="3.65"/><circle cx="540.32" cy="332.13" r="3.65"/><circle cx="542.39" cy="331.08" r="3.65"/><circle cx="544.47" cy="330.46" r="3.65"/><circle cx="546.55" cy="329.86" r="3.65"/><circle cx="548.63" cy="328.78" r="3.65"/><circle cx="550.70" cy="327.70" r="3.65"/><circle cx="552.78" cy="326.64" r="3.65"/><circle cx="554.86" cy="325.62" r="3.65"/><circle cx="556.94" cy="324.65" r="3.65"/><circle cx="559.02" cy="324.06" r="3.65"/><circle cx="561.09" cy="323.48" r="3.65"/><circle cx="563.17" cy="322.18" r="3.65"/><circle cx="565.25" cy="320.78" r="3.65"/><circle cx="567.33" cy="319.31" r="3.65"/><circle cx="569.40" cy="317.68" r="3.65"/><circle cx="571.48" cy="316.08" r="3.65"/><circle cx="573.56" cy="314.92" r="3.65"/><circle cx="575.64" cy="314.22" r="3.65"/><circle cx="577.71" cy="312.04" r="3.65"/><circle cx="579.79" cy="309.72" r="3.65"/><circle cx="581.87" cy="307.24" r="3.65"/><circle cx="583.95" cy="304.53" r="3.65"/><circle cx="586.02" cy="301.61" r="3.65"/><circle cx="588.10" cy="299.58" r="3.65"/><circle cx="590.18" cy="298.03" r="3.65"/><circle cx="592.26" cy="294.18" r="3.65"/><circle cx="594.33" cy="289.49" r="3.65"/><circle cx="596.41" cy="284.78" r="3.65"/><circle cx="598.49" cy="279.02" r="3.65"/><circle cx="600.57" cy="272.74" r="3.65"/><circle cx="602.64" cy="269.38" r="3.65"/><circle cx="604.72" cy="266.67" r="3.65"/><circle cx="606.80" cy="258.82" r="3.65"/><circle cx="608.88" cy="251.61" r="3.65"/><circle cx="610.96" cy="244.41" r="3.65"/><circle cx="613.03" cy="236.63" r="3.65"/><circle cx="615.11" cy="229.58" r="3.65"/><circle cx="617.19" cy="225.51" r="3.65"/><circle cx="619.27" cy="222.77" r="3.65"/><circle cx="621.34" cy="213.55" r="3.65"/><circle cx="623.42" cy="205.62" r="3.65"/><circle cx="625.50" cy="197.79" r="3.65"/><circle cx="627.58" cy="190.19" r="3.65"/><circle cx="629.65" cy="182.96" r="3.65"/><circle cx="631.73" cy="179.03" r="3.65"/><circle cx="633.81" cy="176.32" r="3.65"/><circle cx="635.89" cy="167.23" r="3.65"/><circle cx="637.96" cy="159.32" r="3.65"/><circle cx="640.04" cy="152.25" r="3.65"/><circle cx="642.12" cy="145.86" r="3.65"/><circle cx="644.20" cy="140.10" r="3.65"/><circle cx="646.27" cy="136.83" r="3.65"/><circle cx="648.35" cy="134.59" r="3.65"/><circle cx="650.43" cy="128.13" r="3.65"/><circle cx="652.51" cy="122.83" r="3.65"/><circle cx="654.58" cy="118.32" r="3.65"/><circle cx="656.66" cy="113.82" r="3.65"/><circle cx="658.74" cy="109.33" r="3.65"/><circle cx="660.82" cy="106.57" r="3.65"/><circle cx="662.90" cy="104.51" r="3.65"/><circle cx="664.97" cy="98.30" r="3.65"/><circle cx="667.05" cy="93.50" r="3.65"/><circle cx="669.13" cy="88.98" r="3.65"/><circle cx="671.21" cy="84.79" r="3.65"/><circle cx="673.28" cy="80.98" r="3.65"/><circle cx="675.36" cy="78.83" r="3.65"/><circle cx="677.44" cy="77.31" r="3.65"/><circle cx="679.52" cy="72.65" r="3.65"/><circle cx="681.59" cy="68.77" r="3.65"/><circle cx="683.67" cy="65.29" r="3.65"/><circle cx="685.75" cy="62.33" r="3.65"/><circle cx="687.83" cy="59.59" r="3.65"/><circle cx="689.90" cy="58.58" r="3.65"/></g>
<g stroke="#2a2a2a" fill="none" stroke-width="1.3">
<path d="M63.1 45.4V396.3H714.1"/>
<path d="M714.1 70.4V383.3"/>
</g>
<g stroke="#2a2a2a" stroke-width="1" fill="none">
<path d="M56.6 383.3H63.1"/><path d="M56.6 337.9H63.1"/><path d="M56.6 292.4H63.1"/><path d="M56.6 247.0H63.1"/><path d="M56.6 201.6H63.1"/><path d="M56.6 156.2H63.1"/><path d="M56.6 110.7H63.1"/><path d="M56.6 65.3H63.1"/><path d="M714.1 383.3H721"/><path d="M714.1 331.2H721"/><path d="M714.1 279.0H721"/><path d="M714.1 226.9H721"/><path d="M714.1 174.7H721"/><path d="M714.1 122.6H721"/><path d="M714.1 70.4H721"/><path d="M95.5 396.3V402.9"/><path d="M222.2 396.3V402.9"/><path d="M349.0 396.3V402.9"/><path d="M477.8 396.3V402.9"/><path d="M604.5 396.3V402.9"/></g>
<g class="ax">
<text x="48.8" y="386.5" text-anchor="end">0</text><text x="48.8" y="341.1" text-anchor="end">500</text><text x="48.8" y="295.6" text-anchor="end">1000</text><text x="48.8" y="250.2" text-anchor="end">1500</text><text x="48.8" y="204.8" text-anchor="end">2000</text><text x="48.8" y="159.4" text-anchor="end">2500</text><text x="48.8" y="113.9" text-anchor="end">3000</text><text x="48.8" y="68.5" text-anchor="end">3500</text><text transform="translate(736.6 383.3) rotate(-90)" text-anchor="middle">0</text><text transform="translate(736.6 331.2) rotate(-90)" text-anchor="middle">20000</text><text transform="translate(736.6 279.0) rotate(-90)" text-anchor="middle">40000</text><text transform="translate(736.6 226.9) rotate(-90)" text-anchor="middle">60000</text><text transform="translate(736.6 174.7) rotate(-90)" text-anchor="middle">80000</text><text transform="translate(736.6 122.6) rotate(-90)" text-anchor="middle">100000</text><text transform="translate(736.6 70.4) rotate(-90)" text-anchor="middle">120000</text></g>
<g class="lab">
<text x="95.5" y="419.8" text-anchor="middle">Μαρ</text><text x="222.2" y="419.8" text-anchor="middle">Μαΐ</text><text x="349.0" y="419.8" text-anchor="middle">Ιουλ</text><text x="477.8" y="419.8" text-anchor="middle">Σεπ</text><text x="604.5" y="419.8" text-anchor="middle">Νοε</text><text x="388.2" y="445.5" text-anchor="middle" textLength="318.6" lengthAdjust="spacingAndGlyphs" font-size="10.5">Ημερομηνία λήψης δείγματος προς εργαστηριακή επιβεβαίωση</text>
<text transform="translate(20.9 220.8) rotate(-90)" text-anchor="middle" textLength="134.8" lengthAdjust="spacingAndGlyphs">Αριθμός νέων κρουσμάτων</text>
<text transform="translate(763.3 221.3) rotate(-90)" text-anchor="middle" textLength="160" lengthAdjust="spacingAndGlyphs">Συνολικός αριθμός κρουσμάτων</text>
</g>
</svg></body></html>
